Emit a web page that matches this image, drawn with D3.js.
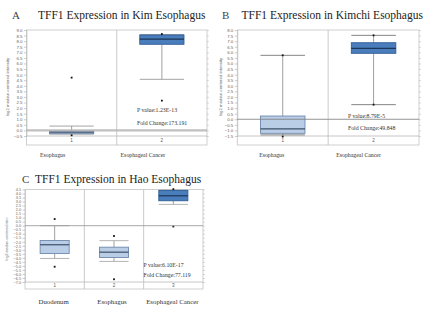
<!DOCTYPE html>
<html><head><meta charset="utf-8">
<script src="https://cdn.jsdelivr.net/npm/d3@7"></script>
<style>
html,body{margin:0;padding:0;background:#fff;}
svg{display:block;}
</style></head>
<body>
<script>
// ---------- DATA ----------
// Panel A: Kim Esophagus
const kimCategories = ["Esophagus", "Esophageal Cancer"];
const kimIndex = ["1", "2"];
const kimWhiskerLow = [-0.33, 4.58];
const kimQ1 = [-0.29, 7.72];
const kimMedian = [-0.15, 8.19];
const kimQ3 = [-0.05, 8.55];
const kimWhiskerHigh = [0.39, 8.60];
const kimMin = [-0.44, 2.67];
const kimMax = [4.73, 8.64];
const kimTicks = [9.0, 8.5, 8.0, 7.5, 7.0, 6.5, 6.0, 5.5, 5.0, 4.5, 4.0, 3.5, 3.0, 2.5, 2.0, 1.5, 1.0, 0.5, 0.0, -0.5];
const kimStats = ["P value:1.23E-13", "Fold Change:173.191"];

// Panel B: Kimchi Esophagus
const kimchiCategories = ["Esophagus", "Esophageal Cancer"];
const kimchiIndex = ["1", "2"];
const kimchiWhiskerLow = [-1.40, 1.31];
const kimchiQ1 = [-1.26, 5.91];
const kimchiMedian = [-0.87, 6.36];
const kimchiQ3 = [0.29, 6.86];
const kimchiWhiskerHigh = [5.73, 7.52];
const kimchiMin = [-1.55, 1.31];
const kimchiMax = [5.73, 7.52];
const kimchiTicks = [8.0, 7.5, 7.0, 6.5, 6.0, 5.5, 5.0, 4.5, 4.0, 3.5, 3.0, 2.5, 2.0, 1.5, 1.0, 0.5, 0.0, -0.5, -1.0, -1.5];
const kimchiStats = ["P value:8.79E-5", "Fold Change:49.848"];

// Panel C: Hao Esophagus
const haoCategories = ["Duodenum", "Esophagus", "Esophageal Cancer"];
const haoIndex = ["1", "2", "3"];
const haoWhiskerLow = [-4.07, -4.44, 2.65];
const haoQ1 = [-3.45, -3.95, 3.10];
const haoMedian = [-2.37, -3.29, 3.72];
const haoQ3 = [-1.84, -2.67, 4.38];
const haoWhiskerHigh = [0.00, -1.86, 4.45];
const haoMin = [-5.10, -6.66, -0.10];
const haoMax = [0.83, -1.28, 4.54];
const haoTicks = [4.5, 4.0, 3.5, 3.0, 2.5, 2.0, 1.5, 1.0, 0.5, 0.0, -0.5, -1.0, -1.5, -2.0, -2.5, -3.0, -3.5, -4.0, -4.5, -5.0, -5.5, -6.0, -6.5, -7.0];
const haoStats = ["P value:6.10E-17", "Fold Change:77.119"];

// ---------- DRAW ----------
const W = 426, H = 312;
const svg = d3.select("body").append("svg").attr("width", W).attr("height", H);
const SERIF = "'Liberation Serif','DejaVu Serif',serif";
const SANS = "'Liberation Sans','DejaVu Sans',sans-serif";

function drawPanel(p) {
  const g = svg.append("g");
  const y = d3.scaleLinear().domain([p.ticks[p.ticks.length - 1], p.ticks[0]]).range([p.bottom, p.top]);
  const x = d3.scaleBand().domain(p.index).range([p.left, p.right]).paddingInner(0).paddingOuter(0);
  const bw = x.bandwidth() * 0.49;
  const cx = d => x(d) + x.bandwidth() / 2;

  // frame
  g.append("rect").attr("x", p.left).attr("y", p.top)
    .attr("width", p.right - p.left).attr("height", p.outer - p.top)
    .attr("fill", "none").attr("stroke", "#c4c4c4").attr("stroke-width", 0.8);
  g.append("line").attr("x1", p.left).attr("x2", p.right).attr("y1", p.bottom).attr("y2", p.bottom)
    .attr("stroke", "#b8b8b8").attr("stroke-width", 0.8);
  p.index.slice(1).forEach(d => {
    g.append("line").attr("x1", x(d)).attr("x2", x(d)).attr("y1", p.top).attr("y2", p.outer)
      .attr("stroke", "#bdbdbd").attr("stroke-width", 0.8);
  });

  // left axis
  const ax = g.append("g").attr("transform", `translate(${p.left},0)`)
    .call(d3.axisLeft(y).tickValues(p.ticks).tickFormat(d3.format(".1f")).tickSize(2.5).tickSizeOuter(0).tickPadding(1.5));
  ax.select(".domain").attr("stroke", "#bbb").attr("stroke-width", 0.6);
  ax.selectAll(".tick line").attr("stroke", "#999").attr("stroke-width", 0.5);
  ax.selectAll(".tick text").attr("fill", "#666").style("font-size", p.tickFont + "px").style("font-family", SANS);
  // right ticks
  const axr = g.append("g").attr("transform", `translate(${p.right},0)`)
    .call(d3.axisRight(y).tickValues(p.ticks).tickFormat("").tickSize(1.8).tickSizeOuter(0));
  axr.select(".domain").remove();
  axr.selectAll(".tick line").attr("stroke", "#aaa").attr("stroke-width", 0.5);

  // y title
  g.append("text").attr("transform", `translate(${p.ytitleX},${p.ytitleY}) rotate(-90)`)
    .attr("text-anchor", "middle").style("font-family", SANS).style("font-size", p.ytitleFont + "px")
    .attr("fill", "#666").text(p.ytitle);

  // boxes
  p.index.forEach((d, i) => {
    const c = cx(d);
    const dark = p.dark[i];
    // whisker
    g.append("line").attr("x1", c).attr("x2", c).attr("y1", y(p.wHigh[i])).attr("y2", y(p.q3[i]))
      .attr("stroke", "#888").attr("stroke-width", 0.8);
    g.append("line").attr("x1", c).attr("x2", c).attr("y1", y(p.q1[i])).attr("y2", y(p.wLow[i]))
      .attr("stroke", "#888").attr("stroke-width", 0.8);
    [p.wHigh[i], p.wLow[i]].forEach(v => {
      g.append("line").attr("x1", c - bw / 2).attr("x2", c + bw / 2).attr("y1", y(v)).attr("y2", y(v))
        .attr("stroke", p.capColor).attr("stroke-width", 0.9);
    });
    g.append("rect").attr("x", c - bw / 2).attr("y", y(p.q3[i]))
      .attr("width", bw).attr("height", Math.max(0.5, y(p.q1[i]) - y(p.q3[i])))
      .attr("fill", dark ? "#4a7dbb" : "#b9cde6")
      .attr("stroke", dark ? "#2f5f97" : "#6e89ad").attr("stroke-width", 0.9);
    g.append("line").attr("x1", c - bw / 2).attr("x2", c + bw / 2).attr("y1", y(p.med[i])).attr("y2", y(p.med[i]))
      .attr("stroke", dark ? "#1d3656" : "#3d4f68").attr("stroke-width", 1.2);
    [p.min[i], p.max[i]].forEach(v => {
      g.append("rect").attr("x", c - 0.9).attr("y", y(v) - 0.9).attr("width", 1.8).attr("height", 1.8).attr("fill", "#111");
    });
    // index label
    g.append("text").attr("x", c).attr("y", (p.bottom + p.outer) / 2 + 1.6).attr("text-anchor", "middle")
      .style("font-family", SANS).style("font-size", "4.5px").attr("fill", "#555").text(d);
    // category label
    g.append("text").attr("x", c + p.labelShift[i]).attr("y", p.labelY).attr("text-anchor", "middle")
      .style("font-family", SERIF).style("font-size", p.labelFont + "px").attr("fill", "#333").text(p.categories[i]);
  });

  // zero line
  g.append("line").attr("x1", p.left).attr("x2", p.right).attr("y1", y(0)).attr("y2", y(0))
    .attr("stroke", p.zeroColor).attr("stroke-width", p.zeroWidth).attr("stroke-opacity", 0.85);

  // stats text
  p.stats.forEach((t, k) => {
    g.append("text").attr("x", p.statsX).attr("y", p.statsY[k])
      .style("font-family", SERIF).style("font-size", "5.8px").attr("fill", "#333").text(t);
  });

  // titles
  g.append("text").attr("x", p.letterX).attr("y", p.titleY).style("font-family", SERIF)
    .style("font-size", "11px").attr("fill", "#444").text(p.letter);
  g.append("text").attr("x", p.titleX).attr("y", p.titleY).style("font-family", SERIF)
    .style("font-size", "11.5px").attr("fill", "#222").text(p.title);
}

drawPanel({
  letter: "A", title: "TFF1 Expression in Kim Esophagus", letterX: 12, titleX: 38, titleY: 19,
  categories: kimCategories, index: kimIndex, ticks: kimTicks,
  wLow: kimWhiskerLow, q1: kimQ1, med: kimMedian, q3: kimQ3, wHigh: kimWhiskerHigh, min: kimMin, max: kimMax,
  dark: [false, true], stats: kimStats,
  left: 26.5, right: 207, top: 30, bottom: 136, outer: 145,
  labelShift: [-19, -19], labelY: 157, labelFont: 5.8,
  tickFont: 4.4, ytitle: "log2 median-centered intensity", ytitleX: 9, ytitleY: 87, ytitleFont: 4.3,
  zeroColor: "#b5b5b5", zeroWidth: 2.4, capColor: "#9a9a9a",
  statsX: 137, statsY: [112, 125]
});

drawPanel({
  letter: "B", title: "TFF1 Expression in Kimchi Esophagus", letterX: 222, titleX: 241.5, titleY: 19,
  categories: kimchiCategories, index: kimchiIndex, ticks: kimchiTicks,
  wLow: kimchiWhiskerLow, q1: kimchiQ1, med: kimchiMedian, q3: kimchiQ3, wHigh: kimchiWhiskerHigh, min: kimchiMin, max: kimchiMax,
  dark: [false, true], stats: kimchiStats,
  left: 237.3, right: 419, top: 30, bottom: 136, outer: 145,
  labelShift: [-11, -15], labelY: 157, labelFont: 5.8,
  tickFont: 4.4, ytitle: "log2 median-centered intensity", ytitleX: 222, ytitleY: 87, ytitleFont: 4.3,
  zeroColor: "#808080", zeroWidth: 1, capColor: "#777",
  statsX: 348, statsY: [118, 129.5]
});

drawPanel({
  letter: "C", title: "TFF1 Expression in Hao Esophagus", letterX: 22, titleX: 35, titleY: 183,
  categories: haoCategories, index: haoIndex, ticks: haoTicks,
  wLow: haoWhiskerLow, q1: haoQ1, med: haoMedian, q3: haoQ3, wHigh: haoWhiskerHigh, min: haoMin, max: haoMax,
  dark: [false, false, true], stats: haoStats,
  left: 25, right: 203, top: 189.5, bottom: 282, outer: 289,
  labelShift: [-1, -2, -1], labelY: 304, labelFont: 6.8,
  tickFont: 3.8, ytitle: "log2 median-centered ratio", ytitleX: 8, ytitleY: 239, ytitleFont: 3.6,
  zeroColor: "#999", zeroWidth: 1, capColor: "#aaa",
  statsX: 143.5, statsY: [267, 277]
});
</script>
</body></html>
